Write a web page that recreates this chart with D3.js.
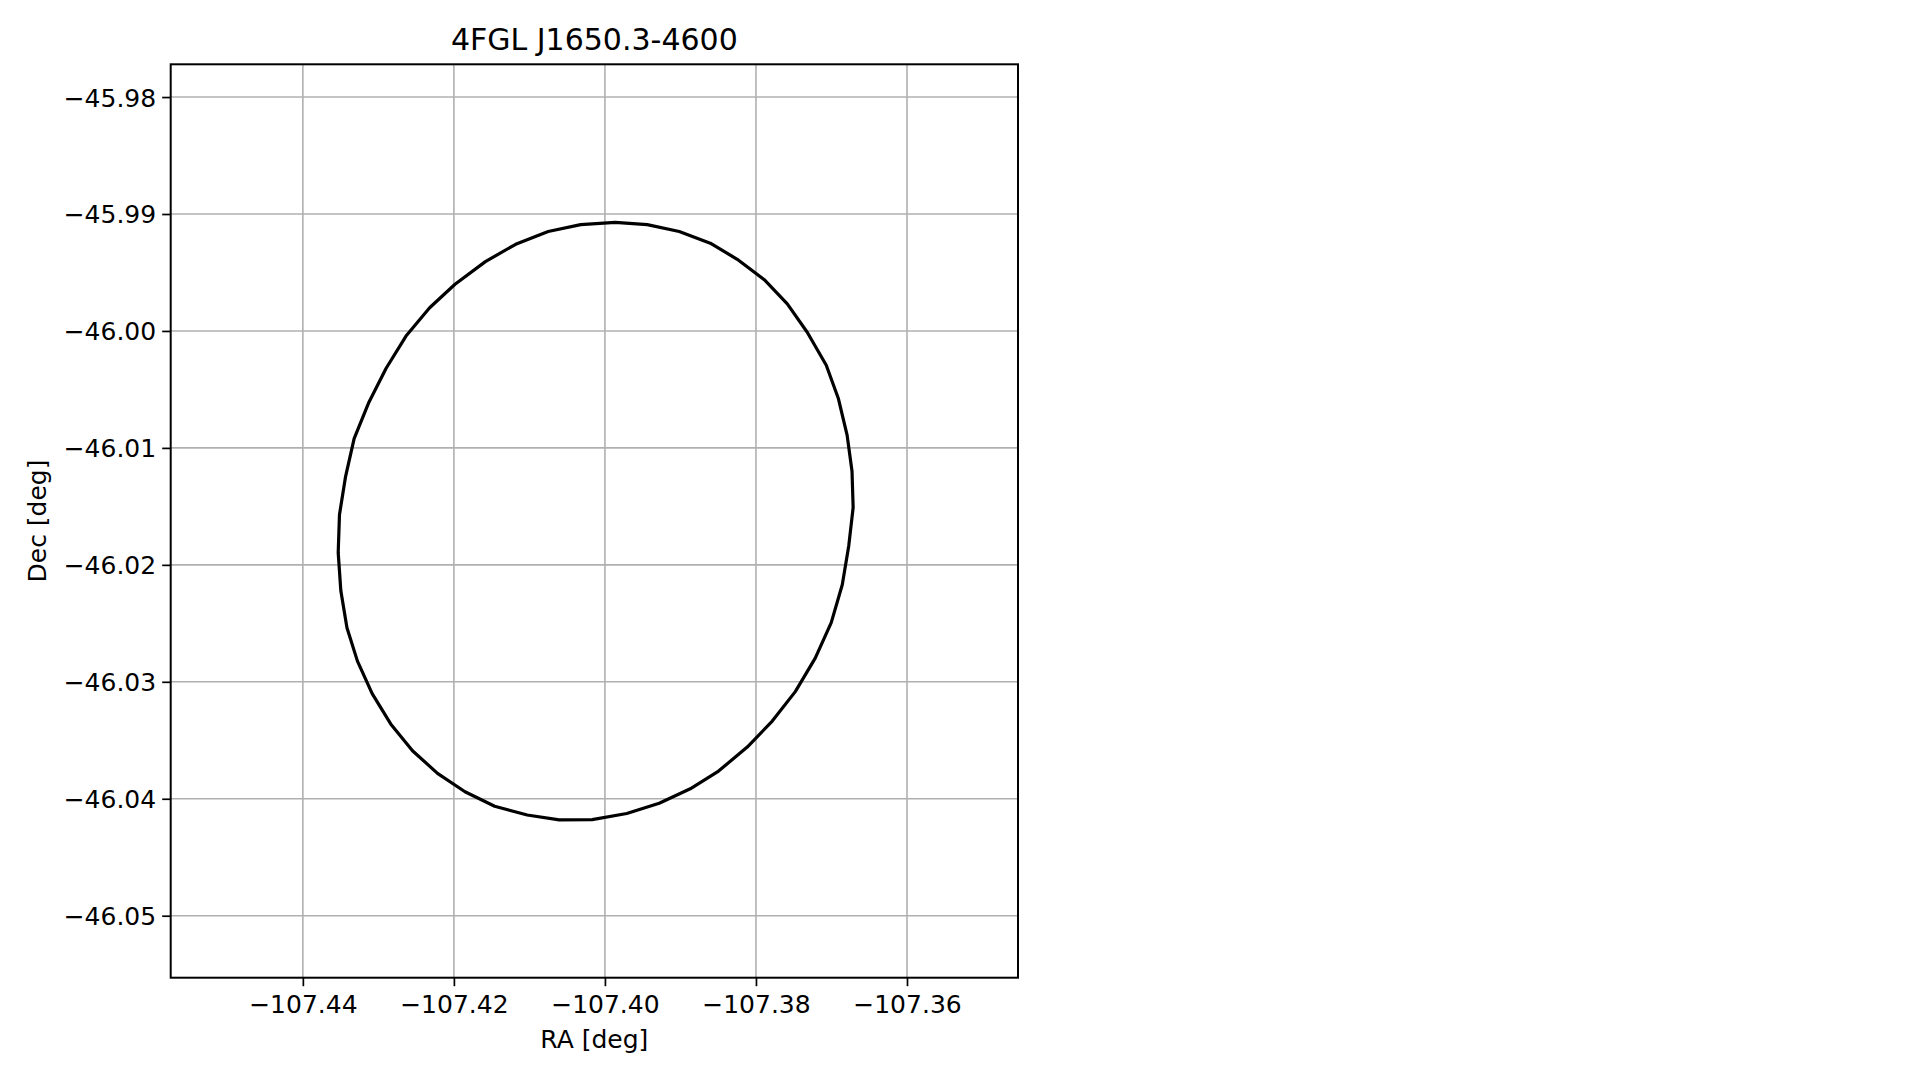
<!DOCTYPE html>
<html>
<head>
<meta charset="utf-8">
<script src="https://cdn.jsdelivr.net/npm/d3@7"></script>
<style>
  html, body { margin: 0; padding: 0; background: #ffffff; }
  svg { display: block; }
  text { font-family: "DejaVu Sans", sans-serif; fill: #000; }
</style>
</head>
<body>
<svg id="chart" width="1919" height="1080"></svg>
<script>
// ---- Data ----
const titleText = "4FGL J1650.3-4600";
const xLabelText = "RA [deg]";
const yLabelText = "Dec [deg]";
const xTicks = [-107.44, -107.42, -107.40, -107.38, -107.36];
const yTicks = [-45.98, -45.99, -46.00, -46.01, -46.02, -46.03, -46.04, -46.05];
const xDomain = [-107.4575, -107.3453];
const yDomain = [-46.0553, -45.9772];

// ellipse contour vertices
const contourRA = [
  -107.39864, -107.39440, -107.39016, -107.38605, -107.38248, -107.37890, -107.37585,
  -107.37321, -107.37069, -107.36910, -107.36793, -107.36728, -107.36713, -107.36771,
  -107.36857, -107.37003, -107.37215, -107.37479, -107.37784, -107.38115, -107.38495,
  -107.38870, -107.39281, -107.39711, -107.40168, -107.40605, -107.41029, -107.41460,
  -107.41853, -107.42217, -107.42548, -107.42837, -107.43082, -107.43277, -107.43416,
  -107.43497, -107.43532, -107.43515, -107.43436, -107.43321, -107.43125, -107.42897,
  -107.42634, -107.42321, -107.41985, -107.41583, -107.41182, -107.40751, -107.40321
];
const contourDec = [
  -45.99071, -45.99091, -45.99150, -45.99250, -45.99387, -45.99562, -45.99768,
  -46.00011, -46.00293, -46.00575, -46.00891, -46.01199, -46.01510, -46.01836,
  -46.02170, -46.02494, -46.02797, -46.03084, -46.03336, -46.03558, -46.03763,
  -46.03915, -46.04039, -46.04126, -46.04178, -46.04180, -46.04139, -46.04064,
  -46.03940, -46.03783, -46.03589, -46.03360, -46.03101, -46.02823, -46.02537,
  -46.02222, -46.01896, -46.01571, -46.01250, -46.00921, -46.00609, -46.00319,
  -46.00044, -45.99802, -45.99601, -45.99407, -45.99259, -45.99150, -45.99091
];

// ---- Layout ----
const plot = { left: 170.7, right: 1018, top: 64.3, bottom: 977.7 };
const tickFont = 25, labelFont = 25, titleFont = 30;

const svg = d3.select("#chart");
const x = d3.scaleLinear().domain(xDomain).range([plot.left, plot.right]);
const y = d3.scaleLinear().domain(yDomain).range([plot.bottom, plot.top]);
const fmt = v => d3.format(".2f")(v).replace("-", "\u2212");

// grid
const grid = svg.append("g");
grid.selectAll("line.gx").data(xTicks).enter().append("line")
  .attr("x1", d => x(d)).attr("x2", d => x(d))
  .attr("y1", plot.top).attr("y2", plot.bottom)
  .attr("stroke", "#b0b0b0").attr("stroke-width", 1.6);
grid.selectAll("line.gy").data(yTicks).enter().append("line")
  .attr("y1", d => y(d)).attr("y2", d => y(d))
  .attr("x1", plot.left).attr("x2", plot.right)
  .attr("stroke", "#b0b0b0").attr("stroke-width", 1.6);

// contour
const pts = contourRA.map((r, i) => [r, contourDec[i]]);
const line = d3.line().x(d => x(d[0])).y(d => y(d[1])).curve(d3.curveLinearClosed);
svg.append("path").attr("d", line(pts))
  .attr("fill", "none").attr("stroke", "#000").attr("stroke-width", 3.2)
  .attr("stroke-linejoin", "round");

// axes
const xAxis = d3.axisBottom(x).tickValues(xTicks).tickFormat(fmt).tickSizeOuter(0).tickSizeInner(8.5).tickPadding(8);
const yAxis = d3.axisLeft(y).tickValues(yTicks).tickFormat(fmt).tickSizeOuter(0).tickSizeInner(8.5).tickPadding(6);
const gx = svg.append("g").attr("transform", `translate(0,${plot.bottom})`).call(xAxis);
const gy = svg.append("g").attr("transform", `translate(${plot.left},0)`).call(yAxis);
[gx, gy].forEach(g => {
  g.select(".domain").remove();
  g.selectAll(".tick line").attr("stroke", "#000").attr("stroke-width", 1.7);
  g.selectAll(".tick text").attr("font-family", "DejaVu Sans").attr("font-size", tickFont).attr("fill", "#000");
});
gx.selectAll(".tick text").attr("dy", "0.76em");
gy.selectAll(".tick text").attr("dy", "0.36em");

// frame
svg.append("rect").attr("x", plot.left).attr("y", plot.top)
  .attr("width", plot.right - plot.left).attr("height", plot.bottom - plot.top)
  .attr("fill", "none").attr("stroke", "#000").attr("stroke-width", 2);

// labels
svg.append("text").attr("x", (plot.left + plot.right) / 2).attr("y", 49.5)
  .attr("text-anchor", "middle").attr("font-size", titleFont).text(titleText);
svg.append("text").attr("x", (plot.left + plot.right) / 2).attr("y", 1048)
  .attr("text-anchor", "middle").attr("font-size", labelFont).text(xLabelText);
svg.append("text").attr("transform", `translate(46,${(plot.top + plot.bottom) / 2}) rotate(-90)`)
  .attr("text-anchor", "middle").attr("font-size", labelFont).text(yLabelText);
</script>
</body>
</html>
